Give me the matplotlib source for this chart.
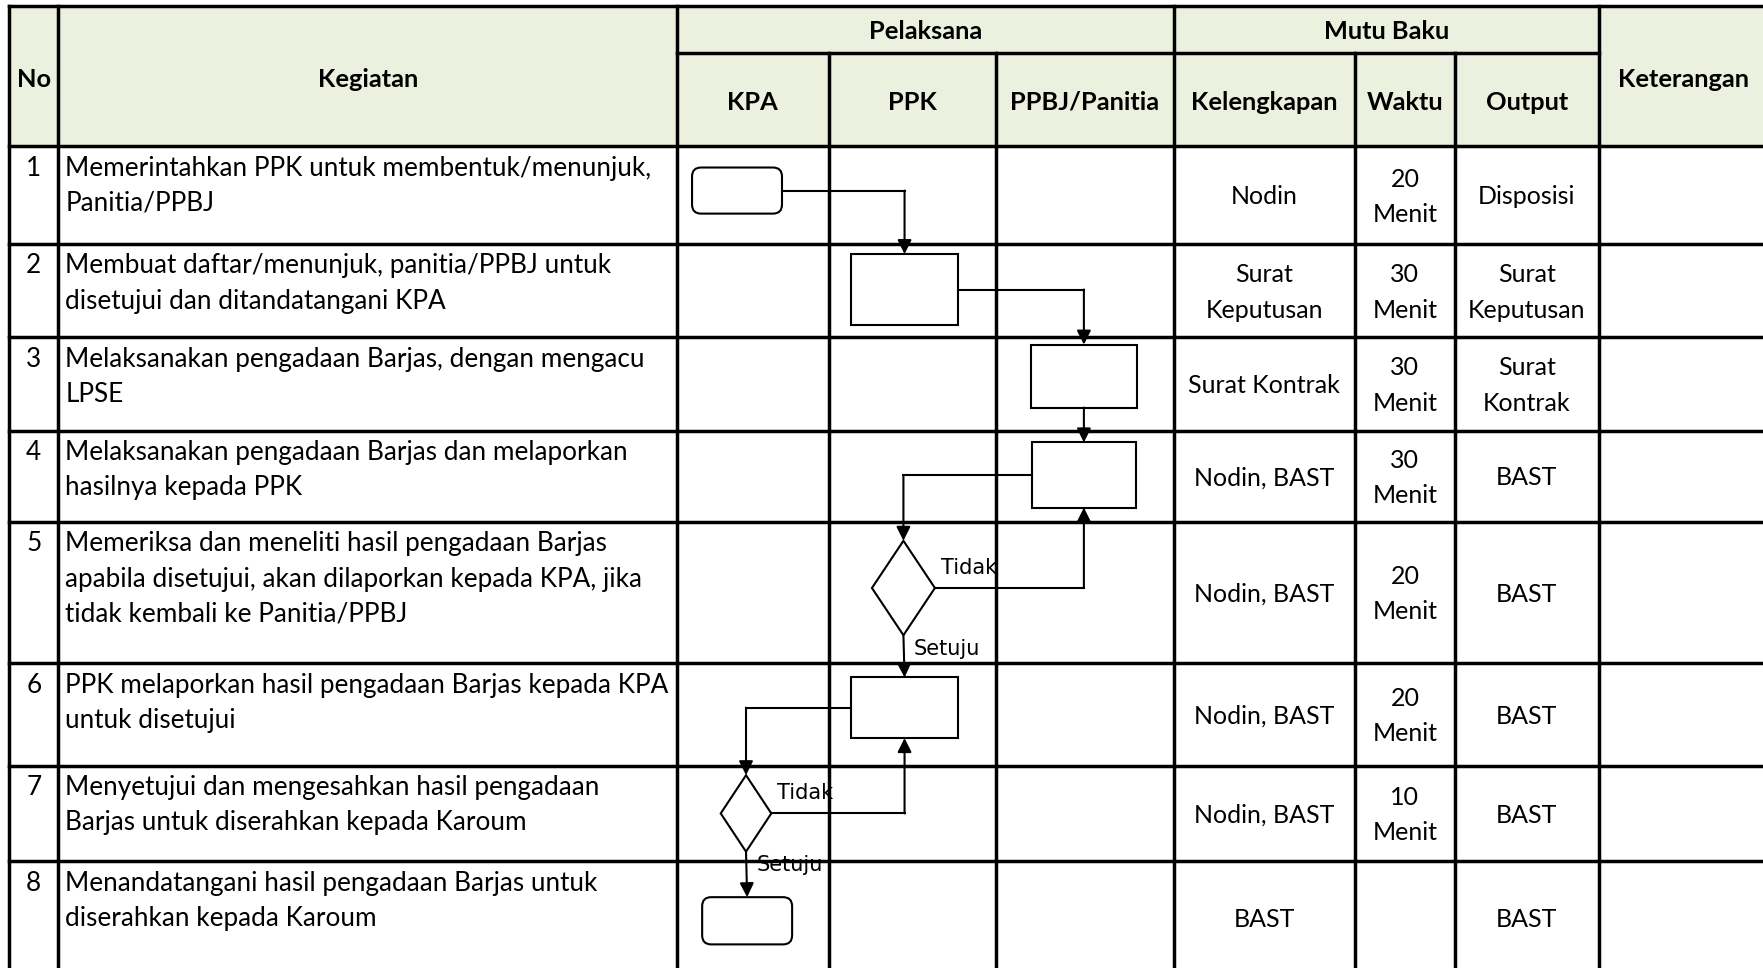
import matplotlib.pyplot as plt
from matplotlib.patches import Rectangle, FancyBboxPatch, Polygon

# ---- table content ----
numbers = ['1', '2', '3', '4', '5', '6', '7', '8']
kegiatan = [
    ['Memerintahkan PPK untuk membentuk/menunjuk,', 'Panitia/PPBJ'],
    ['Membuat daftar/menunjuk, panitia/PPBJ untuk', 'disetujui dan ditandatangani KPA'],
    ['Melaksanakan pengadaan Barjas, dengan mengacu', 'LPSE'],
    ['Melaksanakan pengadaan Barjas dan melaporkan', 'hasilnya kepada PPK'],
    ['Memeriksa dan meneliti hasil pengadaan Barjas',
     'apabila disetujui, akan dilaporkan kepada KPA, jika',
     'tidak kembali ke Panitia/PPBJ'],
    ['PPK melaporkan hasil pengadaan Barjas kepada KPA', 'untuk disetujui'],
    ['Menyetujui dan mengesahkan hasil pengadaan', 'Barjas untuk diserahkan kepada Karoum'],
    ['Menandatangani hasil pengadaan Barjas untuk', 'diserahkan kepada Karoum'],
]
kelengkapan = [['Nodin'], ['Surat', 'Keputusan'], ['Surat Kontrak'], ['Nodin, BAST'],
               ['Nodin, BAST'], ['Nodin, BAST'], ['Nodin, BAST'], ['BAST']]
waktu = [['20', 'Menit'], ['30', 'Menit'], ['30', 'Menit'], ['30', 'Menit'],
         ['20', 'Menit'], ['20', 'Menit'], ['10', 'Menit'], []]
output = [['Disposisi'], ['Surat', 'Keputusan'], ['Surat', 'Kontrak'], ['BAST'],
          ['BAST'], ['BAST'], ['BAST'], ['BAST']]

header_top = ['No', 'Kegiatan', 'Pelaksana', 'Mutu Baku', 'Keterangan']
lanes = ['KPA', 'PPK', 'PPBJ/Panitia']
mutu = ['Kelengkapan', 'Waktu', 'Output']

# ---- flow ----
flow_lane = ['KPA', 'PPK', 'PPBJ/Panitia', 'PPBJ/Panitia', 'PPK', 'PPK', 'KPA', 'KPA']
flow_shape = ['terminal', 'process', 'process', 'process', 'decision', 'process', 'decision', 'terminal']
flow_links = [(0, 1, ''), (1, 2, ''), (2, 3, ''), (3, 4, ''), (4, 3, 'Tidak'),
              (4, 5, 'Setuju'), (5, 6, ''), (6, 5, 'Tidak'), (6, 7, 'Setuju')]

# ---- layout (reference pixel units) ----
W, H = 1568, 861
col_x = [8, 52, 602, 737, 886, 1044, 1205, 1294, 1422, 1580]
head_top, head_mid, head_bot = 5, 47, 130
row_y = [130, 217, 300, 383, 464, 590, 681, 766, 866]
shape_size = [(80, 41), (95, 63), (94, 56), (93, 58), (56, 84), (95, 54), (45, 68), (80, 42)]
shape_dx = [-14, -7, -1, -1, -8, -7, -6, -5]
shape_dy = [-4, -1, -7, -1, -4, -6, 0, 3]
GRID_LW = 2.5
SHAPE_LW = 1.5
HEAD_BG = '#EBF1DE'
FONT = 'Lato'
FS_BODY = 18.8
FS_CELL = 18
FS_HEAD = 18.3
FS_FLOW = 15

fig = plt.figure(figsize=(17.63, 9.68), dpi=100)
ax = fig.add_axes([0, 0, 1, 1])
ax.set_xlim(0, W)
ax.set_ylim(H, 0)
ax.axis('off')

# header background
ax.add_patch(Rectangle((col_x[0], head_top), col_x[-1] - col_x[0], head_bot - head_top,
                       facecolor=HEAD_BG, edgecolor='none', zorder=0))

# grid lines
bottom = row_y[-1]
for y in [head_top] + row_y:
    ax.plot([col_x[0], col_x[-1]], [y, y], color='black', lw=GRID_LW, zorder=1)
ax.plot([col_x[2], col_x[8]], [head_mid, head_mid], color='black', lw=GRID_LW, zorder=1)
for i in [0, 1, 2, 5, 8]:
    ax.plot([col_x[i], col_x[i]], [head_top, bottom], color='black', lw=GRID_LW, zorder=1)
for i in [3, 4, 6, 7]:
    ax.plot([col_x[i], col_x[i]], [head_mid, bottom], color='black', lw=GRID_LW, zorder=1)


def cx(i):
    return (col_x[i] + col_x[i + 1]) / 2


def put(x, y, s, fs, bold=False, ha='center'):
    ax.text(x, y, s, ha=ha, va='center', fontsize=fs, family=FONT,
            fontweight='bold' if bold else 'normal', zorder=5)


# header text
mid_top = (head_top + head_bot) / 2 + 3
put(cx(0), mid_top, header_top[0], FS_HEAD, bold=True)
put(cx(1), mid_top, header_top[1], FS_HEAD, bold=True)
put((col_x[2] + col_x[5]) / 2, (head_top + head_mid) / 2 + 2, header_top[2], FS_HEAD, bold=True)
put((col_x[5] + col_x[8]) / 2, (head_top + head_mid) / 2 + 2, header_top[3], FS_HEAD, bold=True)
put(cx(8) - 4, mid_top, header_top[4], FS_HEAD, bold=True)
sub_y = (head_mid + head_bot) / 2 + 2.5
for k, name in enumerate(lanes + mutu):
    put(cx(2 + k), sub_y, name, FS_HEAD, bold=True)

# body text
LINE = 31.5
for r in range(len(numbers)):
    top = row_y[r] + 19.5
    put(cx(0), top, numbers[r], FS_BODY)
    for j, line in enumerate(kegiatan[r]):
        put(col_x[1] + 6, top + j * LINE, line, FS_BODY, ha='left')
    yc = (row_y[r] + row_y[r + 1]) / 2 + 1.5
    for k, cell in enumerate([kelengkapan[r], waktu[r], output[r]]):
        n = len(cell)
        for j, line in enumerate(cell):
            put(cx(5 + k), yc + (j - (n - 1) / 2) * LINE, line, FS_CELL)

# flow shapes
centers = []
for i, (lane, kind) in enumerate(zip(flow_lane, flow_shape)):
    x0 = cx(2 + lanes.index(lane)) + shape_dx[i]
    y0 = (row_y[i] + row_y[i + 1]) / 2 + shape_dy[i]
    w, h = shape_size[i]
    centers.append((x0, y0, w, h))
    if kind == 'process':
        ax.add_patch(Rectangle((x0 - w / 2, y0 - h / 2), w, h, facecolor='white',
                               edgecolor='black', lw=SHAPE_LW, zorder=3))
    elif kind == 'terminal':
        ax.add_patch(FancyBboxPatch((x0 - w / 2, y0 - h / 2), w, h,
                                    boxstyle='round,pad=0,rounding_size=8',
                                    facecolor='white', edgecolor='black', lw=SHAPE_LW, zorder=3))
    else:
        ax.add_patch(Polygon([(x0, y0 - h / 2), (x0 + w / 2, y0), (x0, y0 + h / 2), (x0 - w / 2, y0)],
                             closed=True, facecolor='white', edgecolor='black', lw=SHAPE_LW, zorder=3))

# connectors
arrow = dict(arrowstyle='-|>,head_length=0.6,head_width=0.3', color='black', lw=SHAPE_LW,
             mutation_scale=14, shrinkA=0, shrinkB=0)
for a, b, label in flow_links:
    xa, ya, wa, ha_ = centers[a]
    xb, yb, wb, hb = centers[b]
    if abs(xa - xb) < 5:
        pts = [(xa, ya + ha_ / 2), (xb, yb - hb / 2)]
    else:
        side = 1 if xb > xa else -1
        end_y = yb - hb / 2 if yb > ya else yb + hb / 2
        pts = [(xa + side * wa / 2, ya), (xb, ya), (xb, end_y)]
    xs, ys = zip(*pts[:-1])
    ax.plot(xs, ys, color='black', lw=SHAPE_LW, zorder=4)
    ax.annotate('', xy=pts[-1], xytext=pts[-2], arrowprops=arrow, zorder=4)
    if label == 'Tidak':
        ax.text(xa + wa / 2 + 5, ya - 18, label, ha='left', va='center', fontsize=FS_FLOW,
                family='DejaVu Sans', zorder=5)
    elif label == 'Setuju':
        ax.text(xa + 9, ya + ha_ / 2 + 12, label, ha='left', va='center', fontsize=FS_FLOW,
                family='DejaVu Sans', zorder=5)

fig.savefig('out.png', dpi=100, facecolor='white')
